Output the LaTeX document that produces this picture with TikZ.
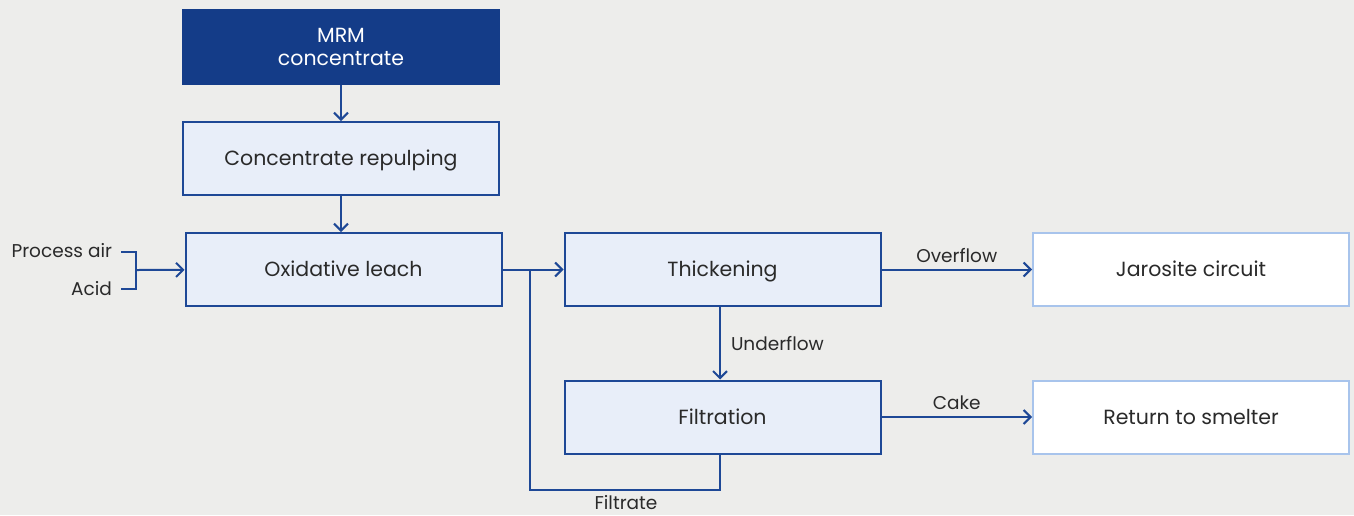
\documentclass[tikz,border=0pt]{standalone}
\usepackage{fontspec}
\setmainfont{Poppins}
\usetikzlibrary{arrows.meta}
\definecolor{bgcol}{HTML}{EDEDEB}
\definecolor{navy}{HTML}{143C88}
\definecolor{edge}{HTML}{1E4896}
\definecolor{pale}{HTML}{E8EEF9}
\definecolor{sky}{HTML}{A8C4EC}
\definecolor{ink}{HTML}{2A2A2A}

\begin{document}
\begin{tikzpicture}[x=1pt,y=-1pt,>={Straight Barb[length=7pt,width=14pt]},
  line width=2pt,
  stepbox/.style={draw=edge,fill=pale,minimum width=316pt,minimum height=73pt,inner sep=0pt,text=ink,text height=14pt,text depth=0pt,font=\fontsize{20.5}{25}\selectfont},
  endbox/.style={stepbox,draw=sky,fill=white},
  lbl/.style={text=ink,font=\fontsize{18.5}{22}\selectfont,inner sep=0pt}]
\fill[bgcol] (0,0) rectangle (1354,515);
\useasboundingbox (0,0) rectangle (1354,515);

\node[draw=navy,fill=navy,minimum width=316pt,minimum height=74pt,inner sep=0pt,text=white,align=center,font=\fontsize{20.5}{23}\selectfont] (mrm) at (341,47) {MRM\\concentrate};
\node[stepbox] (repulp) at (341,158.5) {Concentrate repulping};
\node[stepbox] (leach) at (343.5,269.5) {Oxidative leach};
\node[stepbox] (thick) at (722.5,269.5) {Thickening};
\node[stepbox] (filt) at (722.5,417) {Filtration};
\node[endbox] (jaro) at (1191,269.5) {Jarosite circuit};
\node[endbox] (ret) at (1191,417) {Return to smelter};

\node[lbl,anchor=east] (air) at (113,251) {Process air};
\node[lbl,anchor=east] (acid) at (113,289) {Acid};
\coordinate (airend) at (121,252);
\coordinate (acidend) at (121,289);
\coordinate (feed) at (136,270);
\coordinate (split) at (530,270);
\coordinate (filtlow) at (720,490);

\draw [edge,->] (mrm) -- (repulp);
\draw [edge,->] (repulp) -- (repulp |- leach.north);
\draw [edge] (airend) -| (feed) |- (acidend);
\draw [edge,->] (feed) -- (leach);
\draw [edge,->] (leach) -- (thick);
\draw [edge] (split) |- (filtlow) -- (filt.south -| filtlow);
\draw [edge,->] (thick.south -| filtlow) -- node[lbl,anchor=west,xshift=10pt,pos=0.5] {Underflow} (filt.north -| filtlow);
\draw [edge,->] (thick) -- node[lbl,above=6pt] {Overflow} (jaro);
\draw [edge,->] (filt) -- node[lbl,above=6pt] {Cake} (ret);
\node[lbl] (filtrate) at (626,503) {Filtrate};

\end{tikzpicture}
\end{document}
